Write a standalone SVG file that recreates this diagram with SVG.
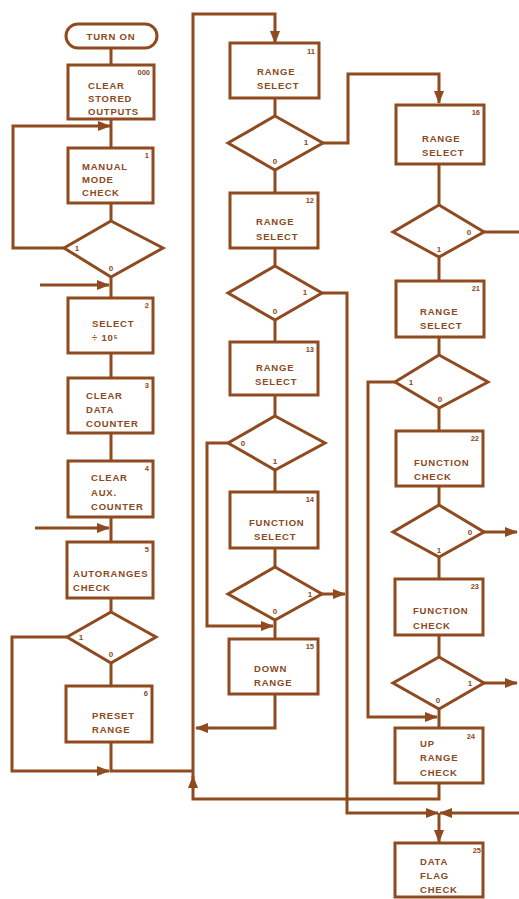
<svg xmlns="http://www.w3.org/2000/svg" width="519" height="899" viewBox="0 0 519 899">
<style>
.b{fill:#fff;stroke:#8f4a1f;stroke-width:3}
.c{fill:none;stroke:#8f4a1f;stroke-width:3}
.t{font-family:"Liberation Sans",Arial,sans-serif;font-weight:bold;font-size:9.5px;letter-spacing:0.8px;fill:#8a4a22}
.n{font-family:"Liberation Sans",Arial,sans-serif;font-weight:bold;font-size:7.5px;fill:#8a4a22;text-anchor:end}
.d{font-family:"Liberation Sans",Arial,sans-serif;font-weight:bold;font-size:8px;fill:#8a4a22;text-anchor:middle}
</style>
<defs>
<marker id="a" markerUnits="userSpaceOnUse" markerWidth="13" markerHeight="10" refX="12" refY="5" orient="auto">
<path d="M0,0 L13,5 L0,10 z" fill="#8f4a1f"/>
</marker>
</defs>
<rect width="519" height="899" fill="#fff"/>
<g id="connectors">
<path class="c" d="M111,48 V65"/>
<path class="c" d="M111,119 V148"/>
<path class="c" d="M64,248 H13 V126 H110" marker-end="url(#a)"/>
<path class="c" d="M111,203 V221"/>
<path class="c" d="M111,277 V298"/>
<path class="c" d="M40,285 H109" marker-end="url(#a)"/>
<path class="c" d="M111,353 V378"/>
<path class="c" d="M111,433 V461"/>
<path class="c" d="M111,517 V542"/>
<path class="c" d="M35,528 H109" marker-end="url(#a)"/>
<path class="c" d="M111,598 V612"/>
<path class="c" d="M111,663 V686"/>
<path class="c" d="M67,637 H12 V771 H109" marker-end="url(#a)"/>
<path class="c" d="M111,742 V771 H193"/>
<path class="c" d="M439,783 V799 H193 V776" marker-end="url(#a)"/>
<path class="c" d="M193,778 V14 H275 V43" marker-end="url(#a)"/>
<path class="c" d="M275,694 V728 H196" marker-end="url(#a)"/>
<path class="c" d="M275,98 V116"/>
<path class="c" d="M323,143 H348 V74 H439 V103" marker-end="url(#a)"/>
<path class="c" d="M275,170 V193"/>
<path class="c" d="M275,248 V266"/>
<path class="c" d="M322,293 H347 V813 H438" marker-end="url(#a)"/>
<path class="c" d="M275,320 V342"/>
<path class="c" d="M275,395 V416"/>
<path class="c" d="M228,443 H207 V626 H273" marker-end="url(#a)"/>
<path class="c" d="M275,470 V492"/>
<path class="c" d="M275,548 V567"/>
<path class="c" d="M322,594 H345" marker-end="url(#a)"/>
<path class="c" d="M275,620 V639"/>
<path class="c" d="M439,164 V205"/>
<path class="c" d="M484,232 H519"/>
<path class="c" d="M439,257 V281"/>
<path class="c" d="M439,337 V355"/>
<path class="c" d="M395,382 H368 V717 H437" marker-end="url(#a)"/>
<path class="c" d="M439,408 V431"/>
<path class="c" d="M439,486 V505"/>
<path class="c" d="M484,532 H517" marker-end="url(#a)"/>
<path class="c" d="M439,557 V579"/>
<path class="c" d="M439,635 V657"/>
<path class="c" d="M484,683 H517" marker-end="url(#a)"/>
<path class="c" d="M439,709 V728"/>
<path class="c" d="M519,813 H440" marker-end="url(#a)"/>
<path class="c" d="M439,813 V842" marker-end="url(#a)"/>
</g>
<g id="turn-on">
<rect class="b" x="66" y="24" width="91" height="24" rx="12"/>
<text class="t" x="111" y="39.5" text-anchor="middle">TURN ON</text>
</g>
<g id="n000">
<rect class="b" x="68" y="65" width="86" height="54"/>
<text class="n" x="150" y="75">000</text>
<text class="t" x="88" y="89">CLEAR</text>
<text class="t" x="88" y="102">STORED</text>
<text class="t" x="88" y="115">OUTPUTS</text>
</g>
<g id="n1">
<rect class="b" x="68" y="148" width="85" height="55"/>
<text class="n" x="149" y="158">1</text>
<text class="t" x="82" y="170">MANUAL</text>
<text class="t" x="82" y="183">MODE</text>
<text class="t" x="82" y="196">CHECK</text>
</g>
<g id="d1">
<polygon class="b" points="111,221 163,248 111,277 64,248"/>
<text class="d" x="77" y="251">1</text>
<text class="d" x="111" y="271">0</text>
</g>
<g id="n2">
<rect class="b" x="68" y="298" width="85" height="55"/>
<text class="n" x="149" y="308">2</text>
<text class="t" x="92" y="327">SELECT</text>
<text class="t" x="92" y="341">÷ 10⁵</text>
</g>
<g id="n3">
<rect class="b" x="68" y="378" width="85" height="55"/>
<text class="n" x="149" y="388">3</text>
<text class="t" x="86" y="399">CLEAR</text>
<text class="t" x="86" y="413">DATA</text>
<text class="t" x="86" y="427">COUNTER</text>
</g>
<g id="n4">
<rect class="b" x="68" y="461" width="85" height="56"/>
<text class="n" x="149" y="471">4</text>
<text class="t" x="91" y="481">CLEAR</text>
<text class="t" x="91" y="496">AUX.</text>
<text class="t" x="91" y="510">COUNTER</text>
</g>
<g id="n5">
<rect class="b" x="67" y="542" width="86" height="56"/>
<text class="n" x="149" y="552">5</text>
<text class="t" x="73" y="577">AUTORANGES</text>
<text class="t" x="73" y="591">CHECK</text>
</g>
<g id="d5">
<polygon class="b" points="111,612 156,637 111,663 67,637"/>
<text class="d" x="81" y="640">1</text>
<text class="d" x="111" y="657">0</text>
</g>
<g id="n6">
<rect class="b" x="66" y="686" width="86" height="56"/>
<text class="n" x="148" y="696">6</text>
<text class="t" x="92" y="719">PRESET</text>
<text class="t" x="92" y="733">RANGE</text>
</g>
<g id="n11">
<rect class="b" x="230" y="43" width="89" height="55"/>
<text class="n" x="315" y="54">11</text>
<text class="t" x="257" y="75">RANGE</text>
<text class="t" x="257" y="89">SELECT</text>
</g>
<g id="d11">
<polygon class="b" points="275,116 323,143 275,170 228,143"/>
<text class="d" x="306" y="145">1</text>
<text class="d" x="275" y="164">0</text>
</g>
<g id="n12">
<rect class="b" x="230" y="193" width="88" height="55"/>
<text class="n" x="314" y="203">12</text>
<text class="t" x="256" y="225">RANGE</text>
<text class="t" x="256" y="240">SELECT</text>
</g>
<g id="d12">
<polygon class="b" points="275,266 322,293 275,320 228,293"/>
<text class="d" x="305" y="295">1</text>
<text class="d" x="275" y="314">0</text>
</g>
<g id="n13">
<rect class="b" x="230" y="342" width="88" height="53"/>
<text class="n" x="314" y="352">13</text>
<text class="t" x="256" y="371">RANGE</text>
<text class="t" x="255" y="385">SELECT</text>
</g>
<g id="d13">
<polygon class="b" points="275,416 325,443 275,470 228,443"/>
<text class="d" x="243" y="446">0</text>
<text class="d" x="275" y="464">1</text>
</g>
<g id="n14">
<rect class="b" x="230" y="492" width="88" height="56"/>
<text class="n" x="314" y="502">14</text>
<text class="t" x="249" y="526">FUNCTION</text>
<text class="t" x="254" y="540">SELECT</text>
</g>
<g id="d14">
<polygon class="b" points="275,567 322,594 275,620 228,594"/>
<text class="d" x="310" y="597">1</text>
<text class="d" x="275" y="614">0</text>
</g>
<g id="n15">
<rect class="b" x="229" y="639" width="89" height="55"/>
<text class="n" x="314" y="649">15</text>
<text class="t" x="254" y="672">DOWN</text>
<text class="t" x="254" y="686">RANGE</text>
</g>
<g id="n16">
<rect class="b" x="396" y="105" width="88" height="59"/>
<text class="n" x="480" y="115">16</text>
<text class="t" x="422" y="142">RANGE</text>
<text class="t" x="422" y="156">SELECT</text>
</g>
<g id="d16">
<polygon class="b" points="439,205 484,232 439,257 393,232"/>
<text class="d" x="469" y="235">0</text>
<text class="d" x="439" y="252">1</text>
</g>
<g id="n21">
<rect class="b" x="396" y="281" width="88" height="56"/>
<text class="n" x="480" y="291">21</text>
<text class="t" x="420" y="315">RANGE</text>
<text class="t" x="420" y="329">SELECT</text>
</g>
<g id="d21">
<polygon class="b" points="439,355 488,382 439,408 395,382"/>
<text class="d" x="411" y="385">1</text>
<text class="d" x="440" y="402">0</text>
</g>
<g id="n22">
<rect class="b" x="396" y="431" width="87" height="55"/>
<text class="n" x="479" y="441">22</text>
<text class="t" x="414" y="466">FUNCTION</text>
<text class="t" x="414" y="480">CHECK</text>
</g>
<g id="d22">
<polygon class="b" points="439,505 484,532 439,557 393,532"/>
<text class="d" x="470" y="535">0</text>
<text class="d" x="439" y="553">1</text>
</g>
<g id="n23">
<rect class="b" x="395" y="579" width="88" height="56"/>
<text class="n" x="479" y="589">23</text>
<text class="t" x="413" y="614">FUNCTION</text>
<text class="t" x="413" y="629">CHECK</text>
</g>
<g id="d23">
<polygon class="b" points="439,657 484,683 439,709 393,683"/>
<text class="d" x="470" y="686">1</text>
<text class="d" x="438" y="703">0</text>
</g>
<g id="n24">
<rect class="b" x="395" y="728" width="88" height="55"/>
<text class="n" x="475" y="739">24</text>
<text class="t" x="420" y="747">UP</text>
<text class="t" x="420" y="761">RANGE</text>
<text class="t" x="420" y="776">CHECK</text>
</g>
<g id="n25">
<rect class="b" x="395" y="843" width="88" height="54"/>
<text class="n" x="481" y="853">25</text>
<text class="t" x="420" y="865">DATA</text>
<text class="t" x="420" y="879">FLAG</text>
<text class="t" x="420" y="893">CHECK</text>
</g>
</svg>
